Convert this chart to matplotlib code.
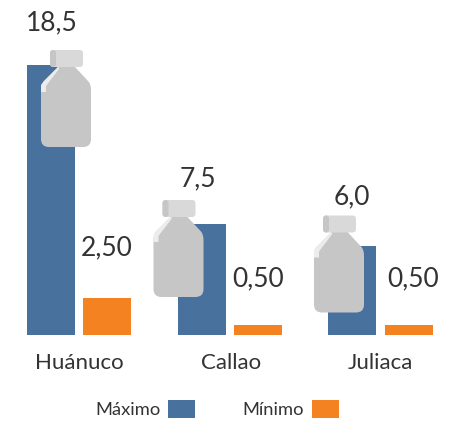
import matplotlib
matplotlib.use("Agg")
import matplotlib.pyplot as plt
from matplotlib.patches import PathPatch
from matplotlib.path import Path
from matplotlib.transforms import Affine2D

categories = ["Huánuco", "Callao", "Juliaca"]
# Bar heights as drawn in the picture; the printed labels are kept separately
maximo = [18.5, 7.6, 6.1]
minimo = [2.53, 0.68, 0.68]
maximo_labels = ["18,5", "7,5", "6,0"]
minimo_labels = ["2,50", "0,50", "0,50"]
series_names = ["Máximo", "Mínimo"]

W, H = 471, 421
BASE = 335
PX = 14.6
BLUE, ORANGE = "#48719e", "#f58220"
INK = "#333333"
FONT = "Lato"

plt.rcParams["font.family"] = [FONT, "DejaVu Sans"]
fig = plt.figure(figsize=(W / 100, H / 100), dpi=100, facecolor="white")
ax = fig.add_axes([0, (H - BASE) / H, 1, BASE / H])
ax.set_xlim(0, W)
ax.set_ylim(0, BASE / PX)
ax.patch.set_visible(False)
for s in ax.spines.values():
    s.set_visible(False)
ax.set_yticks([])

max_x = [51, 202, 352]
min_x = [107, 258, 409]
tick_x = [79, 231.5, 380]
b1 = ax.bar(max_x, maximo, width=48, color=BLUE, zorder=2)
b2 = ax.bar(min_x, minimo, width=48, color=ORANGE, zorder=2)
ax.set_xticks(tick_x, categories, fontsize=16, color=INK)
ax.tick_params(axis="x", length=0, pad=13)

# label offsets from bar top, px (dx, dy)
max_off = [(1, 35), (-4, 38), (0, 42)]
min_off = [(0, 43), (0, 39), (4, 39)]
for xs, vals, labs, offs in [(max_x, maximo, maximo_labels, max_off),
                             (min_x, minimo, minimo_labels, min_off)]:
    for x, v, t, (dx, dy) in zip(xs, vals, labs, offs):
        ax.annotate(t, (x, v), xytext=(dx * 0.72, dy * 0.72), textcoords="offset points",
                    ha="center", va="baseline", fontsize=19, color=INK,
                    annotation_clip=False, zorder=5)


def rrect(x0, y0, x1, y1, r):
    verts = [(x0 + r, y0), (x1 - r, y0), (x1, y0), (x1, y0 + r), (x1, y1 - r), (x1, y1),
             (x1 - r, y1), (x0 + r, y1), (x0, y1), (x0, y1 - r), (x0, y0 + r), (x0, y0),
             (x0 + r, y0), (x0 + r, y0)]
    codes = [Path.MOVETO, Path.LINETO, Path.CURVE3, Path.CURVE3, Path.LINETO, Path.CURVE3,
             Path.CURVE3, Path.LINETO, Path.CURVE3, Path.CURVE3, Path.LINETO, Path.CURVE3,
             Path.CURVE3, Path.CLOSEPOLY]
    return Path(verts, codes)


body = Path(
    [(59, 66), (74, 66), (88, 81), (91, 84), (91, 90), (91, 139), (91, 147), (83, 147),
     (49, 147), (41, 147), (41, 139), (41, 90), (41, 84), (44, 81), (59, 66), (59, 66)],
    [Path.MOVETO, Path.LINETO, Path.LINETO, Path.CURVE3, Path.CURVE3, Path.LINETO,
     Path.CURVE3, Path.CURVE3, Path.LINETO, Path.CURVE3, Path.CURVE3, Path.LINETO,
     Path.CURVE3, Path.CURVE3, Path.LINETO, Path.CLOSEPOLY])
shine = Path([(59, 66), (44, 81), (41, 85), (41, 92), (46, 92), (46, 86), (49, 82), (59, 69), (59, 66)],
             [Path.MOVETO] + [Path.LINETO] * 7 + [Path.CLOSEPOLY])
cap = rrect(50, 50, 83, 67, 3.5)
cap_side = rrect(50, 50, 56, 67, 3)

for dx, dy in [(0, 0), (112.5, 150), (273, 165.5)]:
    tr = Affine2D().scale(1, -1).translate(dx, H - dy)
    for path, col in [(body, "#c6c6c6"), (shine, "#ececec"), (cap, "#d9d9d9"), (cap_side, "#c6c6c6")]:
        fig.add_artist(PathPatch(path, facecolor=col, edgecolor="none", transform=tr, zorder=4))

fs = 13.2
em = fs / 0.72
leg = fig.legend([b1, b2], series_names, loc="lower left", bbox_to_anchor=(95 / W, 1 - 418 / H),
                 ncols=2, frameon=False, markerfirst=False, borderpad=0, borderaxespad=0,
                 handlelength=27 / em, handleheight=21 / em, handletextpad=8 / em, columnspacing=47 / em,
                 labelcolor=INK, prop={"family": [FONT, "DejaVu Sans"], "size": fs})

fig.savefig("out.png", dpi=100, facecolor="white")
